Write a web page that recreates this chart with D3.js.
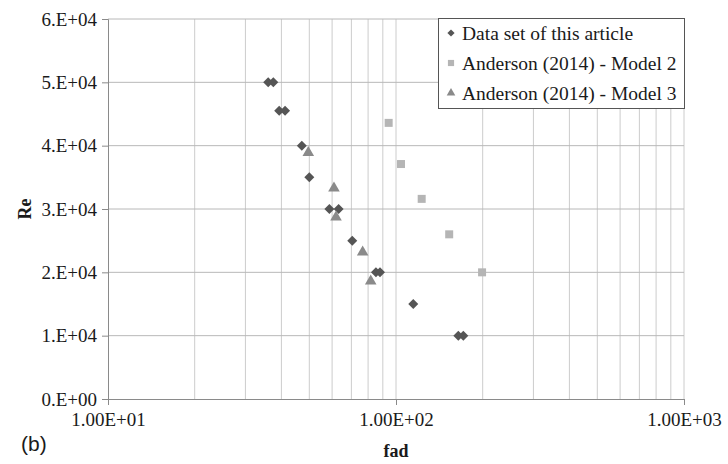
<!DOCTYPE html>
<html>
<head>
<meta charset="utf-8">
<script src="https://cdn.jsdelivr.net/npm/d3@7"></script>
<style>
  html, body { margin: 0; padding: 0; background: #fff; }
  svg { display: block; }
</style>
</head>
<body>
<div id="chart"></div>
<script>
// data
const seriesNames = ['Data set of this article', 'Anderson (2014) - Model 2', 'Anderson (2014) - Model 3'];

const articleFad = [36.0, 37.5, 39.3, 41.2, 47.1, 50.0, 58.7, 63.2, 70.5, 85.2, 88.0, 114.8, 164.6, 171.3];
const articleRe = [50000, 50000, 45500, 45500, 40000, 35000, 30000, 30000, 25000, 20000, 20000, 15000, 10000, 10000];

const model2Fad = [94.3, 104.1, 122.8, 153, 199];
const model2Re = [43600, 37100, 31600, 26000, 20000];

const model3Fad = [49.6, 60.9, 61.9, 76.6, 81.7];
const model3Re = [38900, 33300, 28700, 23200, 18600];

const yTicks = [0, 10000, 20000, 30000, 40000, 50000, 60000];
const xTicks = [10, 100, 1000];

const width = 728, height = 464;
const margin = { top: 19, right: 44, bottom: 65, left: 108 };
const serif = '"Liberation Serif", "Times New Roman", serif';

const svg = d3.select('#chart').append('svg')
  .attr('width', width)
  .attr('height', height);

const x = d3.scaleLog().domain([10, 1000]).range([margin.left, width - margin.right]);
const y = d3.scaleLinear().domain([0, 60000]).range([height - margin.bottom, margin.top]);

// vertical grid: every minor log step
const vGrid = [];
[10, 100].forEach(dec => {
  for (let m = 2; m <= 10; m++) vGrid.push(dec * m);
});

svg.append('g')
  .selectAll('line')
  .data(vGrid)
  .enter()
  .append('line')
  .attr('x1', d => x(d)).attr('x2', d => x(d))
  .attr('y1', y(0)).attr('y2', y(60000))
  .attr('stroke', '#cccccc')
  .attr('stroke-width', 1);

svg.append('g')
  .selectAll('line')
  .data(yTicks.slice(1))
  .enter()
  .append('line')
  .attr('x1', x(10)).attr('x2', x(1000))
  .attr('y1', d => y(d)).attr('y2', d => y(d))
  .attr('stroke', '#b8b8b8')
  .attr('stroke-width', 1);

// axes
const yAxis = svg.append('g')
  .attr('transform', `translate(${x(10)},0)`)
  .call(d3.axisLeft(y)
    .tickValues(yTicks)
    .tickSize(6)
    .tickPadding(5)
    .tickFormat(d => d === 0 ? '0.E+00' : `${d / 10000}.E+04`));

const xAxis = svg.append('g')
  .attr('transform', `translate(0,${y(0)})`)
  .call(d3.axisBottom(x)
    .tickValues(xTicks)
    .tickSize(6)
    .tickPadding(8)
    .tickFormat(d => `1.00E+0${Math.round(Math.log10(d))}`));

[yAxis, xAxis].forEach(a => {
  a.attr('font-family', serif);
  a.select('.domain').attr('stroke', '#8a8a8a');
  a.selectAll('.tick line').attr('stroke', '#8a8a8a');
  a.selectAll('.tick text')
    .attr('fill', '#1a1a1a')
    .style('font-family', serif)
    .style('font-size', '19px');
});

// axis titles
svg.append('text')
  .attr('transform', `translate(31,${(y(0) + y(60000)) / 2}) rotate(-90)`)
  .attr('text-anchor', 'middle')
  .style('font-family', serif)
  .style('font-weight', 'bold')
  .style('font-size', '18px')
  .attr('fill', '#1a1a1a')
  .text('Re');

svg.append('text')
  .attr('x', x(100))
  .attr('y', 457)
  .attr('text-anchor', 'middle')
  .style('font-family', serif)
  .style('font-weight', 'bold')
  .style('font-size', '18px')
  .attr('fill', '#1a1a1a')
  .text('fad');

svg.append('text')
  .attr('x', 21)
  .attr('y', 451)
  .style('font-family', 'Arial, "Liberation Sans", sans-serif')
  .style('font-size', '21px')
  .attr('fill', '#1a1a1a')
  .text('(b)');

// markers
const diamond = d3.symbol().type(d3.symbolSquare);
const square = d3.symbol().type(d3.symbolSquare);
const triangle = d3.symbol().type(d3.symbolTriangle);

const series = [
  { fad: articleFad, re: articleRe, path: diamond.size(50)(), rot: 45, fill: '#555555' },
  { fad: model2Fad, re: model2Re, path: square.size(64)(), rot: 0, fill: '#b5b5b5' },
  { fad: model3Fad, re: model3Re, path: triangle.size(58)(), rot: 0, fill: '#8a8a8a' }
];

series.forEach(s => {
  svg.append('g')
    .selectAll('path')
    .data(s.fad.map((f, i) => [f, s.re[i]]))
    .enter()
    .append('path')
    .attr('d', s.path)
    .attr('fill', s.fill)
    .attr('transform', d => `translate(${x(d[0])},${y(d[1])}) rotate(${s.rot})`);
});

// legend
const legend = svg.append('g').attr('transform', 'translate(438,18)');
legend.append('rect')
  .attr('x', 0.5).attr('y', 0.5)
  .attr('width', 246).attr('height', 90)
  .attr('fill', '#fff')
  .attr('stroke', '#555')
  .attr('stroke-width', 1);

const legendPaths = [
  { path: diamond.size(26)(), rot: 45 },
  { path: square.size(38)(), rot: 0 },
  { path: triangle.size(32)(), rot: 0 }
];

seriesNames.forEach((name, i) => {
  const row = legend.append('g').attr('transform', `translate(0,${15 + i * 30})`);
  row.append('path')
    .attr('d', legendPaths[i].path)
    .attr('fill', series[i].fill)
    .attr('transform', `translate(13,0) rotate(${legendPaths[i].rot})`);
  row.append('text')
    .attr('x', 24)
    .attr('y', 0)
    .attr('dy', '0.35em')
    .style('font-family', serif)
    .style('font-size', '19.5px')
    .attr('fill', '#1a1a1a')
    .text(name);
});
</script>
</body>
</html>
